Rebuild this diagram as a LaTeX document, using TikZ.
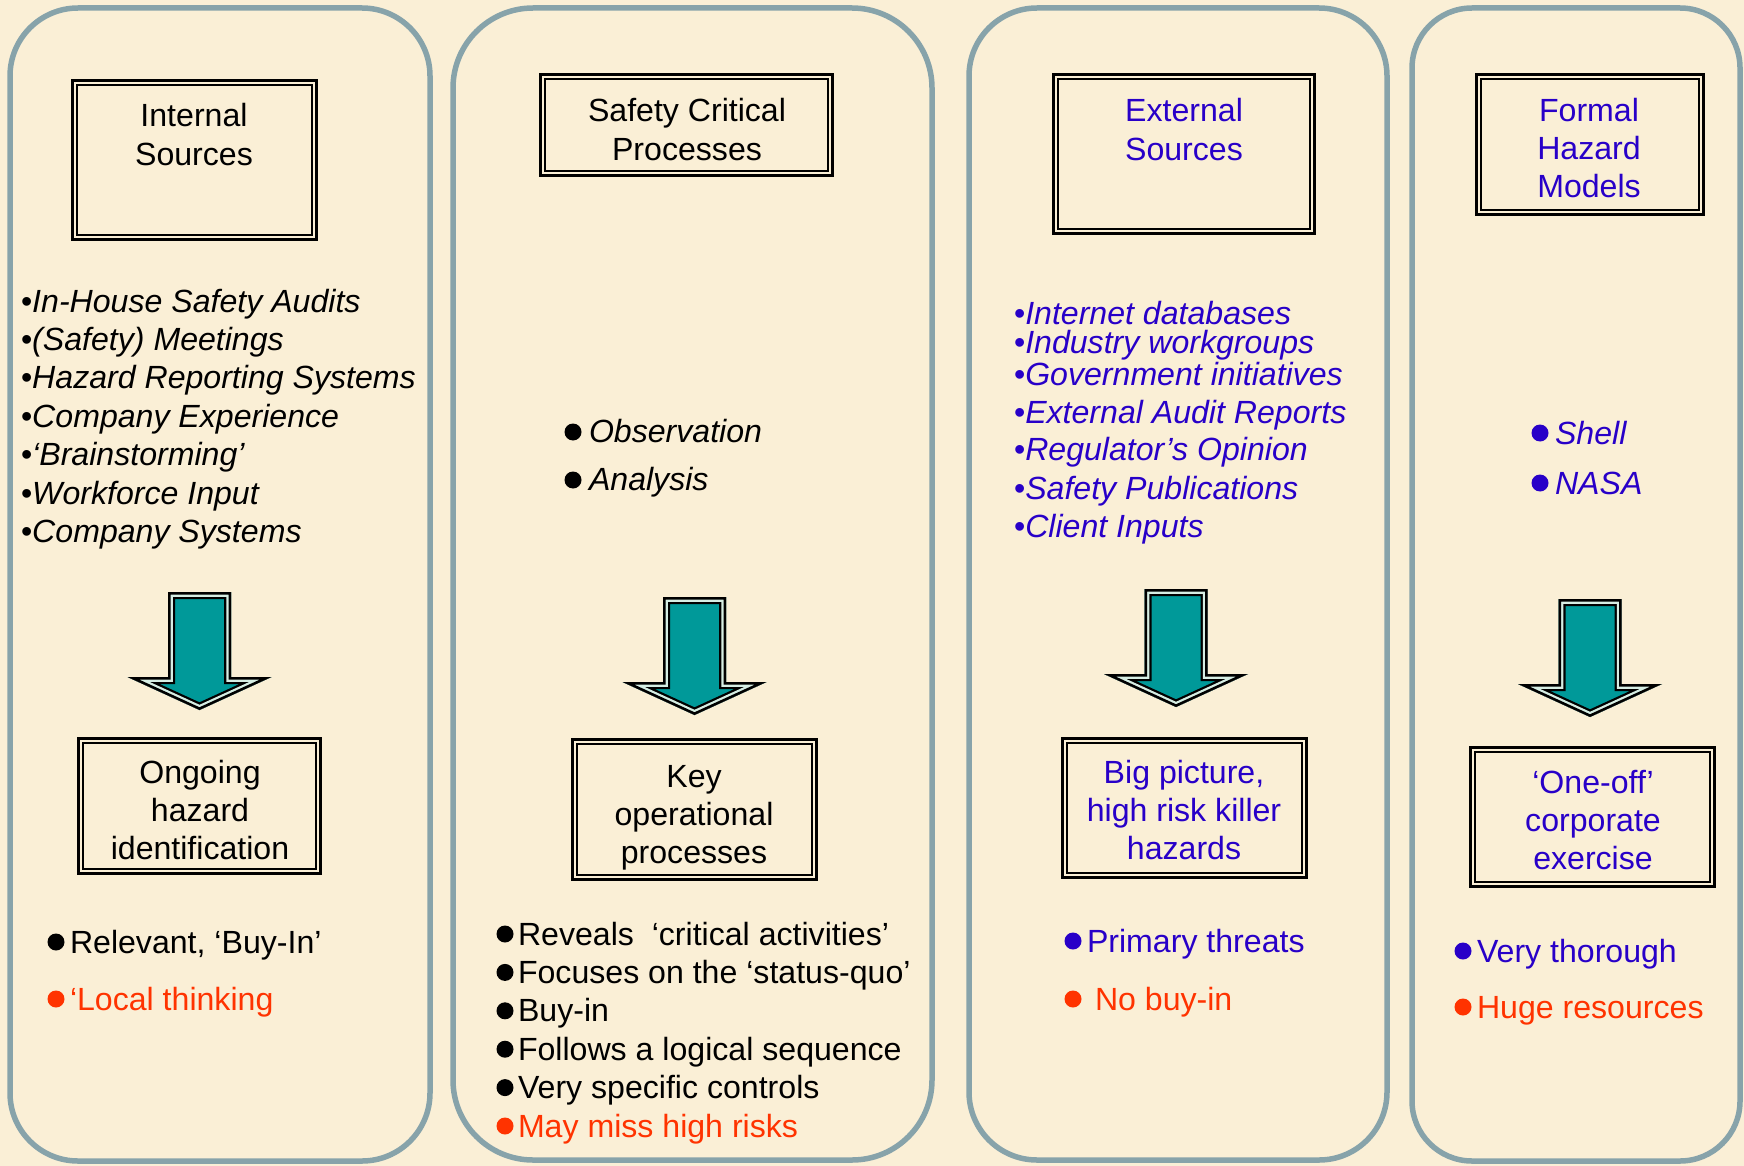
\documentclass[tikz,border=0pt]{standalone}
\usepackage{fontspec}
\setmainfont{Liberation Sans}

\definecolor{parch}{RGB}{250,239,214}
\definecolor{frame}{RGB}{135,163,170}
\definecolor{arrowteal}{RGB}{0,153,153}
\definecolor{glint}{RGB}{214,238,228}
\definecolor{ink}{RGB}{40,0,200}
\definecolor{warn}{RGB}{255,51,0}

\tikzset{
  panel/.style={draw=frame, line width=5.5pt, inner sep=0pt, outer sep=0pt},
  dbox/.style={draw=black, double=parch, double distance=2.4pt, line width=2.5pt,
               inner sep=0pt, outer sep=0pt},
  lbl/.style={font=\fontsize{32.1}{38.4}\selectfont, inner sep=0pt, outer sep=0pt},
  item/.style={lbl, anchor=base west},
  head/.style={lbl, anchor=base},
  bigdot/.style={radius=8.5pt},
}

% block arrow pointing down: #1 = centre x, #2 = top y
\newcommand\blockarrow[2]{%
  \begin{scope}
    \fill[arrowteal] ({#1-31.5},#2) -- ({#1+31.5},#2) -- ({#1+31.5},{#2+85})
      -- ({#1+72},{#2+85}) -- (#1,{#2+118}) -- ({#1-72},{#2+85})
      -- ({#1-31.5},{#2+85}) -- cycle;
    \clip ({#1-31.5},#2) -- ({#1+31.5},#2) -- ({#1+31.5},{#2+85})
      -- ({#1+72},{#2+85}) -- (#1,{#2+118}) -- ({#1-72},{#2+85})
      -- ({#1-31.5},{#2+85}) -- cycle;
    \draw[black, line width=14pt, line join=miter] ({#1-31.5},#2) -- ({#1+31.5},#2) -- ({#1+31.5},{#2+85})
      -- ({#1+72},{#2+85}) -- (#1,{#2+118}) -- ({#1-72},{#2+85})
      -- ({#1-31.5},{#2+85}) -- cycle;
    \draw[glint, line width=9.5pt, line join=miter] ({#1-31.5},#2) -- ({#1+31.5},#2) -- ({#1+31.5},{#2+85})
      -- ({#1+72},{#2+85}) -- (#1,{#2+118}) -- ({#1-72},{#2+85})
      -- ({#1-31.5},{#2+85}) -- cycle;
    \draw[black, line width=5pt, line join=miter] ({#1-31.5},#2) -- ({#1+31.5},#2) -- ({#1+31.5},{#2+85})
      -- ({#1+72},{#2+85}) -- (#1,{#2+118}) -- ({#1-72},{#2+85})
      -- ({#1-31.5},{#2+85}) -- cycle;
  \end{scope}}

\begin{document}
\begin{tikzpicture}[x=1pt,y=-1pt]
\useasboundingbox (0,0) rectangle (1744,1166);
\fill[parch] (0,0) rectangle (1744,1166);

% ---------- column frames ----------
\node[panel, rounded corners=68pt, minimum width=420pt, minimum height=1153pt] (p1) at (220,584.5) {};
\node[panel, rounded corners=80pt, minimum width=479pt, minimum height=1152pt] (p2) at (692.5,584) {};
\node[panel, rounded corners=68pt, minimum width=418pt, minimum height=1152pt] (p3) at (1178,584) {};
\node[panel, rounded corners=60pt, minimum width=328pt, minimum height=1153pt] (p4) at (1576,584.5) {};

% ---------- column 1: internal sources ----------
\node[dbox, minimum width=239.5pt, minimum height=154.5pt] (b1) at (194.5,160) {};
\node[head] (t1) at (194,127) {\begin{tabular}[t]{@{}c@{}}Internal\\Sources\end{tabular}};
\node[item] (l1) at (21,312) {\begin{tabular}[t]{@{}l@{}}
  •\textit{In-House Safety Audits}\\
  •\textit{(Safety) Meetings}\\
  •\textit{Hazard Reporting Systems}\\
  •\textit{Company Experience}\\
  •\textit{‘Brainstorming’}\\
  •\textit{Workforce Input}\\
  •\textit{Company Systems}\end{tabular}};
\blockarrow{199.5}{592}
\node[dbox, minimum width=237.5pt, minimum height=130.5pt] (b5) at (199.5,806) {};
\node[head] (t5) at (200,783) {\begin{tabular}[t]{@{}c@{}}Ongoing\\hazard\\identification\end{tabular}};
\fill[black] (56,942) circle[bigdot];
\node[item] (r1a) at (70,953) {Relevant, ‘Buy-In’};
\fill[warn] (56,999) circle[bigdot];
\node[item, text=warn] (r1b) at (70,1010) {‘Local thinking};

% ---------- column 2: safety critical processes ----------
\node[dbox, minimum width=287.5pt, minimum height=96.5pt] (b2) at (686.5,125) {};
\node[head] (t2) at (687,122) {\begin{tabular}[t]{@{}c@{}}Safety Critical\\Processes\end{tabular}};
\fill[black] (573,432) circle[bigdot];
\node[item] (o2a) at (589,442) {\textit{Observation}};
\fill[black] (573,480) circle[bigdot];
\node[item] (o2b) at (589,490) {\textit{Analysis}};
\blockarrow{694.5}{597}
\node[dbox, minimum width=239.5pt, minimum height=135.5pt] (b6) at (694.5,809.5) {};
\node[head] (t6) at (694,787) {\begin{tabular}[t]{@{}c@{}}Key\\operational\\processes\end{tabular}};
\foreach \k in {0,...,4}
  \fill[black] (505,{934+38.4*\k}) circle[bigdot];
\fill[warn] (505,1126) circle[bigdot];
\node[item] (r2) at (518,945) {\begin{tabular}[t]{@{}l@{}}
  Reveals\ \ ‘critical activities’\\
  Focuses on the ‘status-quo’\\
  Buy-in\\
  Follows a logical sequence\\
  Very specific controls\\
  \textcolor{warn}{May miss high risks}\end{tabular}};

% ---------- column 3: external sources ----------
\node[dbox, minimum width=256.5pt, minimum height=154.5pt] (b3) at (1184,154) {};
\node[head, text=ink] (t3) at (1184,122) {\begin{tabular}[t]{@{}c@{}}External\\Sources\end{tabular}};
\node[item, text=ink] (l3) at (1014,324) {\begin{tabular}[t]{@{}l@{}}
  •\textit{Internet databases}\\[-9.4pt]
  •\textit{Industry workgroups}\\[-6.4pt]
  •\textit{Government initiatives}\\
  •\textit{External Audit Reports}\\[-1pt]
  •\textit{Regulator’s Opinion}\\
  •\textit{Safety Publications}\\
  •\textit{Client Inputs}\end{tabular}};
\blockarrow{1176}{589}
\node[dbox, minimum width=239.5pt, minimum height=134.5pt] (b7) at (1184.5,808) {};
\node[head, text=ink] (t7) at (1184,783) {\begin{tabular}[t]{@{}c@{}}Big picture,\\high risk killer\\hazards\end{tabular}};
\fill[ink] (1073,941) circle[bigdot];
\node[item, text=ink] (r3a) at (1087,952) {Primary threats};
\fill[warn] (1073,999) circle[bigdot];
\node[item, text=warn] (r3b) at (1095,1010) {No buy-in};

% ---------- column 4: formal hazard models ----------
\node[dbox, minimum width=222.5pt, minimum height=135.5pt] (b4) at (1590,144.5) {};
\node[head, text=ink] (t4) at (1589,122) {\fontsize{32.1}{37.6}\selectfont\begin{tabular}[t]{@{}c@{}}Formal\\Hazard\\Models\end{tabular}};
\fill[ink] (1540,433) circle[bigdot];
\node[item, text=ink] (o4a) at (1555,444) {\textit{Shell}};
\fill[ink] (1540,483) circle[bigdot];
\node[item, text=ink] (o4b) at (1555,494) {\textit{NASA}};
\blockarrow{1590}{599}
\node[dbox, minimum width=239.5pt, minimum height=134.5pt] (b8) at (1592.5,817) {};
\node[head, text=ink] (t8) at (1593,793) {\begin{tabular}[t]{@{}c@{}}‘One-off’\\corporate\\exercise\end{tabular}};
\fill[ink] (1463,951) circle[bigdot];
\node[item, text=ink] (r4a) at (1477,962) {Very thorough};
\fill[warn] (1463,1007) circle[bigdot];
\node[item, text=warn] (r4b) at (1477,1018) {Huge resources};
\end{tikzpicture}
\end{document}
